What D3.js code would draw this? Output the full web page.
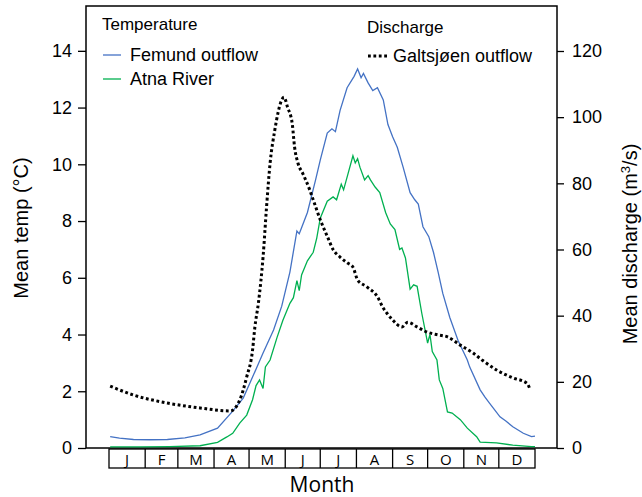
<!DOCTYPE html>
<html>
<head>
<meta charset="utf-8">
<script src="https://cdn.jsdelivr.net/npm/d3@7"></script>
<style>
  body { margin: 0; background: #fff; }
  text { font-family: "Liberation Sans", Arial, sans-serif; fill: #000; }
</style>
</head>
<body>
<svg width="642" height="497"></svg>
<script>
// Month letters and the day each month starts
const months = ["J", "F", "M", "A", "M", "J", "J", "A", "S", "O", "N", "D"];
const monthStarts = [0, 31, 59, 90, 120, 151, 181, 212, 243, 273, 304, 334, 365];

const tempTicks = [0, 2, 4, 6, 8, 10, 12, 14];
const dischargeTicks = [0, 20, 40, 60, 80, 100, 120];

// [day of year, mean temp °C]
const femundOutflow = [
  [1, 0.40], [9, 0.35], [21, 0.30], [35, 0.29], [50, 0.30], [65, 0.36], [78, 0.46],
  [93, 0.70], [106, 1.30], [115, 1.76], [123, 2.50], [132, 3.35], [141, 4.16], [148, 5.00],
  [155, 6.20], [161, 7.65], [163, 7.55], [165, 7.76], [170, 8.30], [177, 9.45], [181, 10.15],
  [187, 11.10], [191, 11.25], [194, 11.15], [198, 11.90], [204, 12.70], [210, 13.10], [213, 13.36],
  [216, 13.05], [218, 13.20], [222, 12.87], [226, 12.60], [230, 12.70], [235, 12.27],
  [239, 11.40], [243, 10.97], [247, 10.60], [252, 9.90], [258, 9.00], [262, 8.75], [265, 8.60],
  [269, 7.80], [274, 7.45], [278, 6.90], [282, 6.20], [286, 5.45], [292, 4.60], [299, 3.80],
  [307, 3.10], [309, 2.86], [318, 2.05], [322, 1.80], [326, 1.58], [335, 1.10], [340, 0.95],
  [346, 0.75], [355, 0.52], [362, 0.40], [365, 0.42]
];

// [day of year, mean temp °C]
const atnaRiver = [
  [1, 0.04], [27, 0.04], [52, 0.05], [78, 0.08], [93, 0.20], [101, 0.39], [106, 0.52],
  [112, 0.88], [118, 1.16], [123, 1.70], [126, 2.20], [129, 2.40], [132, 2.10], [134, 2.86],
  [138, 3.10], [144, 3.90], [149, 4.50], [152, 4.80], [155, 5.10], [158, 5.30], [161, 5.90],
  [163, 5.55], [165, 6.10], [170, 6.60], [175, 6.90], [178, 7.40], [181, 8.10], [187, 8.70],
  [192, 8.85], [195, 8.75], [199, 9.30], [201, 9.10], [205, 9.70], [209, 10.30], [211, 10.05],
  [213, 10.20], [215, 9.90], [219, 9.45], [222, 9.60], [224, 9.45], [228, 9.20], [232, 9.00],
  [237, 8.30], [241, 7.90], [245, 7.70], [249, 7.00], [251, 7.05], [254, 6.70], [258, 5.60],
  [261, 5.75], [264, 5.70], [268, 4.75], [273, 3.70], [275, 4.00], [277, 3.40], [281, 3.10],
  [283, 2.40], [286, 2.10], [290, 1.27], [294, 1.23], [301, 1.00], [307, 0.70], [315, 0.40],
  [318, 0.21], [332, 0.18], [346, 0.10], [362, 0.05], [365, 0.05]
];

// [day of year, mean discharge m3/s]
const galtsjoenOutflow = [
  [1, 18.7], [21, 16.0], [50, 13.6], [78, 12.1], [104, 11.2], [112, 14.5], [118, 21.5],
  [123, 29.6], [125, 36.6], [128, 43.8], [132, 57.7], [135, 72.9], [138, 86.0], [142, 96.0],
  [145, 101.6], [147, 104.3], [150, 106.0], [153, 103.0], [157, 98.0], [159, 91.0],
  [162, 86.0], [166, 83.0], [172, 78.0], [175, 75.0], [181, 69.0], [187, 64.0], [192, 60.0],
  [198, 57.7], [204, 56.0], [209, 54.7], [213, 50.8], [221, 48.7], [230, 45.7], [235, 42.3],
  [238, 40.8], [243, 38.7], [251, 36.6], [256, 38.0], [264, 36.6], [272, 35.1], [282, 34.2],
  [290, 33.6], [301, 31.1], [312, 28.7], [320, 26.5], [332, 23.6], [346, 21.2], [358, 19.6],
  [361, 17.5]
];

const svg = d3.select("svg");

const frame = { left: 86, right: 557, top: 6, bottom: 448 };

const x = d3.scaleLinear().domain([0, 365]).range([109, 535]);
const yTemp = d3.scaleLinear().domain([0, 15.58]).range([frame.bottom, frame.top]);
const yFlow = d3.scaleLinear().domain([0, 133.6]).range([frame.bottom, frame.top]);

// Left axis
const leftAxis = svg.append("g")
  .attr("transform", `translate(${frame.left},0)`)
  .call(d3.axisLeft(yTemp).tickValues(tempTicks).tickSize(8).tickPadding(6));

// Right axis
const rightAxis = svg.append("g")
  .attr("transform", `translate(${frame.right},0)`)
  .call(d3.axisRight(yFlow).tickValues(dischargeTicks).tickSize(7).tickPadding(8));

[leftAxis, rightAxis].forEach(g => {
  g.select(".domain").remove();
  g.selectAll("line").attr("stroke", "#000").attr("stroke-width", 1.3);
  g.selectAll("text")
    .style("font-family", "'Liberation Sans', Arial, sans-serif")
    .style("font-size", "18px")
    .attr("fill", "#000");
});

// Plot frame
svg.append("rect")
  .attr("x", frame.left)
  .attr("y", frame.top)
  .attr("width", frame.right - frame.left)
  .attr("height", frame.bottom - frame.top)
  .attr("fill", "none")
  .attr("stroke", "#000")
  .attr("stroke-width", 1.5);

// Month boxes under the plot
const boxTop = 449, boxBottom = 468;
const monthG = svg.append("g");
monthG.append("rect")
  .attr("x", x(0))
  .attr("y", boxTop)
  .attr("width", x(365) - x(0))
  .attr("height", boxBottom - boxTop)
  .attr("fill", "none")
  .attr("stroke", "#000")
  .attr("stroke-width", 1.3);

monthG.selectAll(".divider")
  .data(monthStarts.slice(1, -1))
  .enter()
  .append("line")
  .attr("x1", d => x(d))
  .attr("x2", d => x(d))
  .attr("y1", boxTop)
  .attr("y2", boxBottom)
  .attr("stroke", "#000")
  .attr("stroke-width", 1.3);

monthG.selectAll(".month")
  .data(months)
  .enter()
  .append("text")
  .attr("x", (d, i) => (x(monthStarts[i]) + x(monthStarts[i + 1])) / 2)
  .attr("y", boxBottom - 3.5)
  .attr("text-anchor", "middle")
  .style("font-family", "'Open Sans', sans-serif")
  .style("font-size", "15px")
  .text(d => d);

// Lines
const tempLine = d3.line()
  .x(d => x(d[0]))
  .y(d => yTemp(d[1]));

const flowLine = d3.line()
  .x(d => x(d[0]))
  .y(d => yFlow(d[1]))
  .curve(d3.curveMonotoneX);

svg.append("path")
  .datum(atnaRiver)
  .attr("fill", "none")
  .attr("stroke", "#00b050")
  .attr("stroke-width", 1.3)
  .attr("d", tempLine);

svg.append("path")
  .datum(femundOutflow)
  .attr("fill", "none")
  .attr("stroke", "#4472c4")
  .attr("stroke-width", 1.3)
  .attr("d", tempLine);

svg.append("path")
  .datum(galtsjoenOutflow)
  .attr("fill", "none")
  .attr("stroke", "#000")
  .attr("stroke-width", 3)
  .attr("stroke-dasharray", "2.8,2.6")
  .attr("d", flowLine);

// Axis titles
svg.append("text")
  .attr("transform", "translate(28,228) rotate(-90)")
  .attr("text-anchor", "middle")
  .style("font-size", "20px")
  .text("Mean temp (°C)");

const rTitle = svg.append("text")
  .attr("transform", "translate(637,244) rotate(-90)")
  .attr("text-anchor", "middle")
  .style("font-size", "20px");
rTitle.append("tspan").text("Mean discharge (m");
rTitle.append("tspan").attr("baseline-shift", "super").style("font-size", "13px").text("3");
rTitle.append("tspan").text("/s)");

svg.append("text")
  .attr("x", 322)
  .attr("y", 492)
  .attr("text-anchor", "middle")
  .style("font-family", "'Open Sans', sans-serif")
  .style("font-size", "21px")
  .text("Month");

// Legend
svg.append("text").attr("x", 102).attr("y", 30).style("font-size", "17px").text("Temperature");
svg.append("text").attr("x", 367).attr("y", 33).style("font-size", "17px").text("Discharge");

const legendItems = [
  { x: 103, y: 55, label: "Femund outflow", color: "#4472c4", dash: null, w: 1.3, len: 18 },
  { x: 103, y: 79, label: "Atna River", color: "#00b050", dash: null, w: 1.3, len: 18 },
  { x: 368, y: 56, label: "Galtsjøen outflow", color: "#000", dash: "2.8,2.6", w: 3, len: 20 }
];

legendItems.forEach(d => {
  svg.append("line")
    .attr("x1", d.x)
    .attr("x2", d.x + d.len)
    .attr("y1", d.y)
    .attr("y2", d.y)
    .attr("stroke", d.color)
    .attr("stroke-width", d.w)
    .attr("stroke-dasharray", d.dash);
  svg.append("text")
    .attr("x", d.x + d.len + (d.dash ? 5 : 9))
    .attr("y", d.y + 6)
    .style("font-size", "18px")
    .text(d.label);
});
</script>
</body>
</html>
